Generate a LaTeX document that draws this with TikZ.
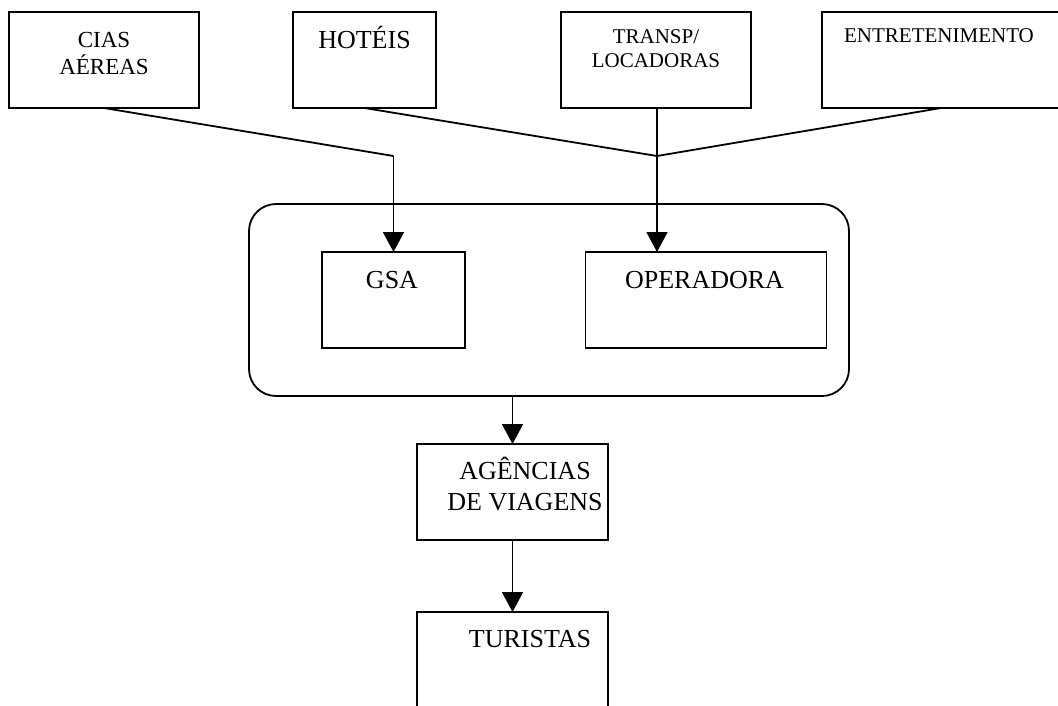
\documentclass[tikz,border=0pt]{standalone}
\usepackage{fontspec}
\setmainfont{Liberation Serif}
\usetikzlibrary{arrows.meta}
\begin{document}
\begin{tikzpicture}[x=1pt,y=-1pt,
  box/.style={draw,line width=1.8pt,rectangle,inner sep=0pt,outer sep=0pt},
  lbl/.style={anchor=base,align=center,inner sep=0pt},
  conn/.style={line width=1.8pt},
  arr/.style={line width=1.8pt,-{Triangle[width=21pt,length=20pt]}},
  big/.style={font=\fontsize{26}{31}\selectfont},
  mid/.style={font=\fontsize{23}{27}\selectfont},
  small/.style={font=\fontsize{21}{24}\selectfont}]
\useasboundingbox (0,0) rectangle (1058,705);
\clip (0,0) rectangle (1058,705);
\fill[white] (0,0) rectangle (1058,705);
% boxes
\node[box,minimum width=190pt,minimum height=96pt] (cias) at (104,60) {};
\node[box,minimum width=143pt,minimum height=96pt] (hoteis) at (364.5,60) {};
\node[box,minimum width=190pt,minimum height=96pt] (transp) at (656,60) {};
\node[box,minimum width=238pt,minimum height=96pt] (entret) at (941,60) {};
\node[box,rounded corners=27pt,minimum width=600pt,minimum height=192pt] (cont) at (549,300) {};
\node[box,minimum width=143pt,minimum height=96pt] (gsa) at (393.5,300) {};
\node[box,minimum width=241pt,minimum height=96pt] (oper) at (706,300) {};
\node[box,minimum width=191pt,minimum height=96pt] (ag) at (512.5,492) {};
\node[box,minimum width=191pt,minimum height=108pt] (tur) at (512.5,666) {};
% labels (base = last line)
\node[lbl,mid] (ciasT) at (104,74) {CIAS\\AÉREAS};
\node[lbl,big] (hoteisT) at (364.5,48) {HOTÉIS};
\node[lbl,small] (transpT) at (656,67) {TRANSP/\\LOCADORAS};
\node[lbl,small] (entretT) at (939,42) {ENTRETENIMENTO};
\node[lbl,big] (gsaT) at (392,288) {GSA};
\node[lbl,big] (operT) at (704.5,288) {OPERADORA};
\node[lbl,big] (agT) at (525,510) {AGÊNCIAS\\DE VIAGENS};
\node[lbl,big] (turT) at (530,647) {TURISTAS};
% junctions
\coordinate (j1) at (393.5,156);
\coordinate (j2) at (657,156);
% connectors
\draw[conn] (cias.south) -- (j1);
\draw[arr] (j1) -- (gsa.north);
\draw[conn] (hoteis.south) -- (j2);
\draw[conn] (entret.south) -- (j2);
\draw[arr] (transp.south -| j2) -- (j2 |- oper.north);
\draw[arr] (ag.north |- cont.south) -- (ag.north);
\draw[arr] (ag.south) -- (tur.north);
\end{tikzpicture}
\end{document}
